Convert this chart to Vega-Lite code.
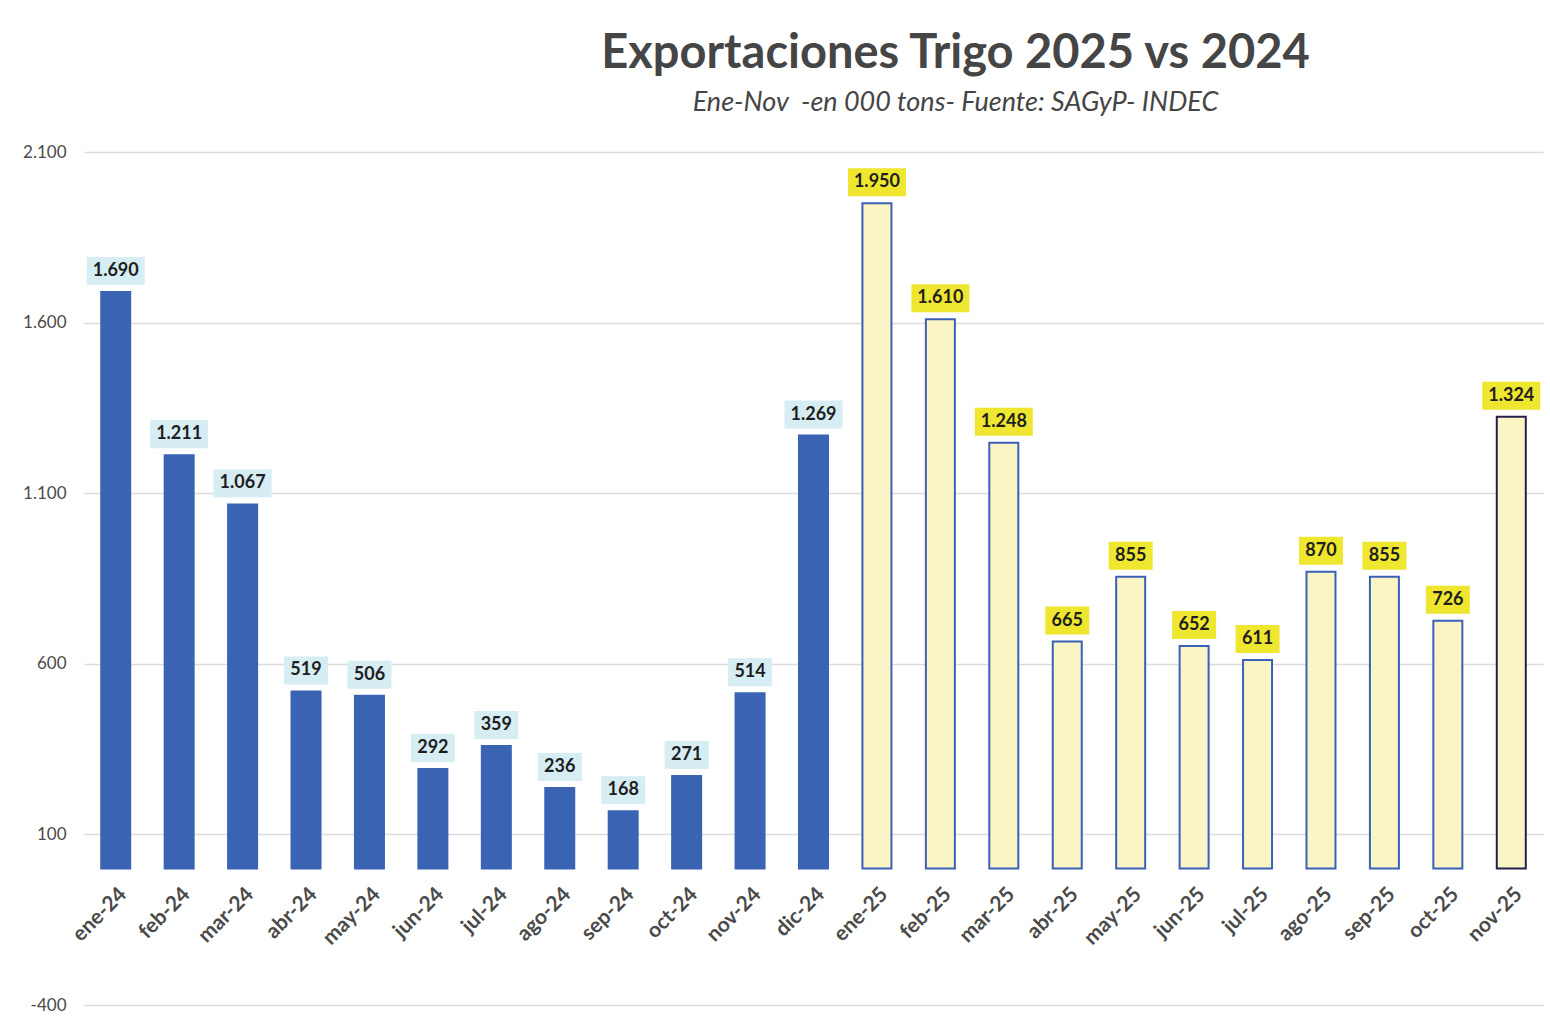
{
  "$schema": "https://vega.github.io/schema/vega-lite/v6.json",
  "autosize": "none",
  "width": 1459,
  "height": 853,
  "padding": {"left": 84, "top": 152, "right": 7, "bottom": 17},
  "background": "white",
  "config": {
    "locale": {"number": {"decimal": ",", "thousands": ".", "grouping": [3], "currency": ["$", ""], "minus": "-"}},
    "view": {"stroke": null},
    "font": "Lato"
  },
  "title": {
    "text": "Exportaciones Trigo 2025 vs 2024",
    "subtitle": "Ene-Nov \u00a0-en 000 tons- Fuente: SAGyP- INDEC",
    "anchor": "middle",
    "dx": 142,
    "offset": 26,
    "font": "Lato",
    "fontSize": 47,
    "fontWeight": "bold",
    "color": "#454545",
    "subtitleFont": "Lato",
    "subtitleFontSize": 27,
    "subtitleFontStyle": "italic",
    "subtitleColor": "#454545",
    "subtitlePadding": 12
  },
  "data": {
    "values": [
      {"mes": "ene-24", "year": "2024", "v": 1690},
      {"mes": "feb-24", "year": "2024", "v": 1211},
      {"mes": "mar-24", "year": "2024", "v": 1067},
      {"mes": "abr-24", "year": "2024", "v": 519},
      {"mes": "may-24", "year": "2024", "v": 506},
      {"mes": "jun-24", "year": "2024", "v": 292},
      {"mes": "jul-24", "year": "2024", "v": 359},
      {"mes": "ago-24", "year": "2024", "v": 236},
      {"mes": "sep-24", "year": "2024", "v": 168},
      {"mes": "oct-24", "year": "2024", "v": 271},
      {"mes": "nov-24", "year": "2024", "v": 514},
      {"mes": "dic-24", "year": "2024", "v": 1269},
      {"mes": "ene-25", "year": "2025", "v": 1950},
      {"mes": "feb-25", "year": "2025", "v": 1610},
      {"mes": "mar-25", "year": "2025", "v": 1248},
      {"mes": "abr-25", "year": "2025", "v": 665},
      {"mes": "may-25", "year": "2025", "v": 855},
      {"mes": "jun-25", "year": "2025", "v": 652},
      {"mes": "jul-25", "year": "2025", "v": 611},
      {"mes": "ago-25", "year": "2025", "v": 870},
      {"mes": "sep-25", "year": "2025", "v": 855},
      {"mes": "oct-25", "year": "2025", "v": 726},
      {"mes": "nov-25", "year": "2025", "v": 1324}
    ]
  },
  "encoding": {
    "x": {
      "field": "mes",
      "type": "nominal",
      "sort": null,
      "scale": {"paddingInner": 0, "paddingOuter": 0},
      "axis": {
        "title": null,
        "offset": -136,
        "labelAngle": -45,
        "labelFontSize": 21,
        "labelFontWeight": "bold",
        "labelColor": "#4a4a4a",
        "labelPadding": 14,
        "ticks": false,
        "domain": false,
        "grid": false
      }
    },
    "y": {
      "field": "v",
      "type": "quantitative",
      "scale": {"domain": [-400, 2100], "nice": false, "zero": false},
      "axis": {
        "title": null,
        "values": [-400, 100, 600, 1100, 1600, 2100],
        "format": ",.0f",
        "labelFontSize": 17,
        "labelColor": "#4a4a4a",
        "labelPadding": 18,
        "ticks": false,
        "domain": false,
        "grid": true,
        "gridColor": "#dcdcdc",
        "gridWidth": 1.5
      }
    }
  },
  "layer": [
    {
      "mark": {"type": "bar", "width": 29, "strokeWidth": 2},
      "encoding": {
        "y": {"datum": 0, "type": "quantitative"},
        "y2": {"field": "v"},
        "fill": {"condition": {"test": "datum.year == '2024'", "value": "#3A64B3"}, "value": "#FBF5C6"},
        "stroke": {
          "condition": [
            {"test": "datum.mes == 'nov-25'", "value": "#241F4D"},
            {"test": "datum.year == '2025'", "value": "#3B60B8"}
          ],
          "value": "#3A64B3"
        }
      }
    },
    {
      "transform": [{"filter": "datum.v >= 1000"}],
      "mark": {"type": "bar", "width": 58, "yOffset": -7, "y2Offset": -35},
      "encoding": {
        "y2": {"field": "v"},
        "fill": {"condition": {"test": "datum.year == '2024'", "value": "#D6EDF3"}, "value": "#EFE62F"}
      }
    },
    {
      "transform": [{"filter": "datum.v < 1000"}],
      "mark": {"type": "bar", "width": 44, "yOffset": -7, "y2Offset": -35},
      "encoding": {
        "y2": {"field": "v"},
        "fill": {"condition": {"test": "datum.year == '2024'", "value": "#D6EDF3"}, "value": "#EFE62F"}
      }
    },
    {
      "mark": {"type": "text", "dy": -21, "baseline": "middle", "align": "center", "fontSize": 18, "fontWeight": "bold", "color": "#1e1e1e", "font": "Lato"},
      "encoding": {
        "text": {"field": "v", "type": "quantitative", "format": ",.0f"}
      }
    }
  ]
}
